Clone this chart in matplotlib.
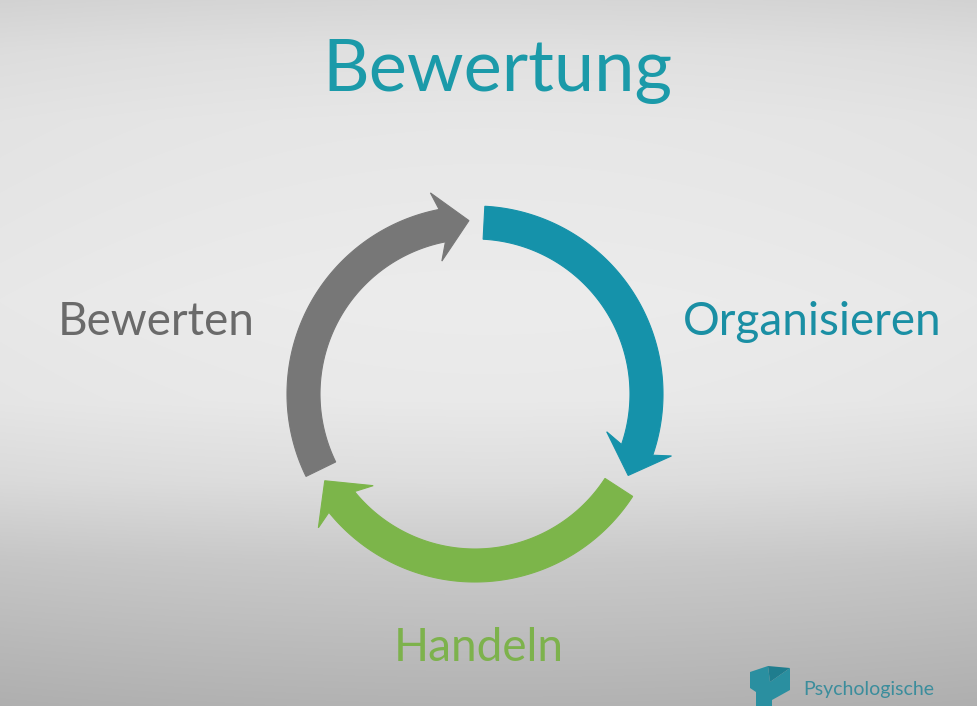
import numpy as np
import matplotlib
matplotlib.use("Agg")
import matplotlib.pyplot as plt
from matplotlib.patches import Polygon

# ---- content ----
title = "Bewertung"
labels = ["Organisieren", "Handeln", "Bewerten"]
tail_deg = [87, -33, 206]     # angle where each arc starts (flat end)
tip_deg = [-28, -150, 92]     # angle of the arrow tip
arrow_colors = ["#1592aa", "#7cb54a", "#777777"]
label_colors = ["#1a8fa4", "#7db24c", "#6a6a6a"]
label_pos = [(812, 322), (479, 648), (156, 322)]
logo_text = "Psychologische"

W, H = 978, 706
fig = plt.figure(figsize=(W / 100, H / 100), dpi=100)
ax = fig.add_axes([0, 0, 1, 1])
ax.set_xlim(0, W)
ax.set_ylim(H, 0)
ax.axis("off")

# background gradient (mostly vertical)
yy, xx = np.mgrid[0:H, 0:W]
prof_y = [0, 50, 120, 300, 400, 480, 560, 640, 706]
prof_v = [0.84, 0.88, 0.905, 0.925, 0.915, 0.87, 0.79, 0.74, 0.70]
bg = np.interp(yy, prof_y, prof_v)
bg = bg - 0.015 * ((xx - 489) / 489.0) ** 2
bg = np.clip(bg, 0, 1)
ax.imshow(np.dstack([bg, bg, bg]), extent=[0, W, H, 0], zorder=0, aspect="auto")

cx, cy = 475, 394
r_out, r_in = 188, 155
r_mid = (r_out + r_in) / 2
head_len = 9      # degrees
ext = 18          # px wings

def P(r, a):
    t = np.deg2rad(a)
    return (cx + r * np.cos(t), cy - r * np.sin(t))

for t0, t1, col in zip(tail_deg, tip_deg, arrow_colors):
    base_a = t1 + head_len
    arc = np.linspace(t0, base_a, 120)
    outer = [P(r_out, a) for a in arc]
    inner = [P(r_in, a) for a in arc[::-1]]
    head = [P(r_out + ext, base_a + 1.5), P(r_mid + 2, t1), P(r_in - ext, base_a + 3)]
    pts = outer + head + inner
    ax.add_patch(Polygon(pts, closed=True, facecolor=col, edgecolor=col,
                         linewidth=0.8, zorder=3))

font = "Lato"
ax.text(497, 72, title, fontsize=52, color="#1b9aa9", ha="center", va="center",
        family=font)
for lab, (x, y), c in zip(labels, label_pos, label_colors):
    ax.text(x, y, lab, fontsize=33, color=c, ha="center", va="center", family=font)

# logo
logo_col = "#2a8fa0"
ax.add_patch(Polygon([(750, 672), (768, 666), (770, 682), (790, 668), (790, 690),
                      (772, 700), (772, 706), (756, 706), (756, 692), (750, 688)],
                     closed=True, facecolor=logo_col, edgecolor="none", zorder=3))
ax.add_patch(Polygon([(768, 666), (790, 668), (770, 682)], closed=True,
                     facecolor="#1f7d8e", edgecolor="none", zorder=3))
ax.text(803, 690, logo_text, fontsize=14, color="#3b8d9c", ha="left", va="center",
        family=font)

fig.savefig("out.png", dpi=100)
